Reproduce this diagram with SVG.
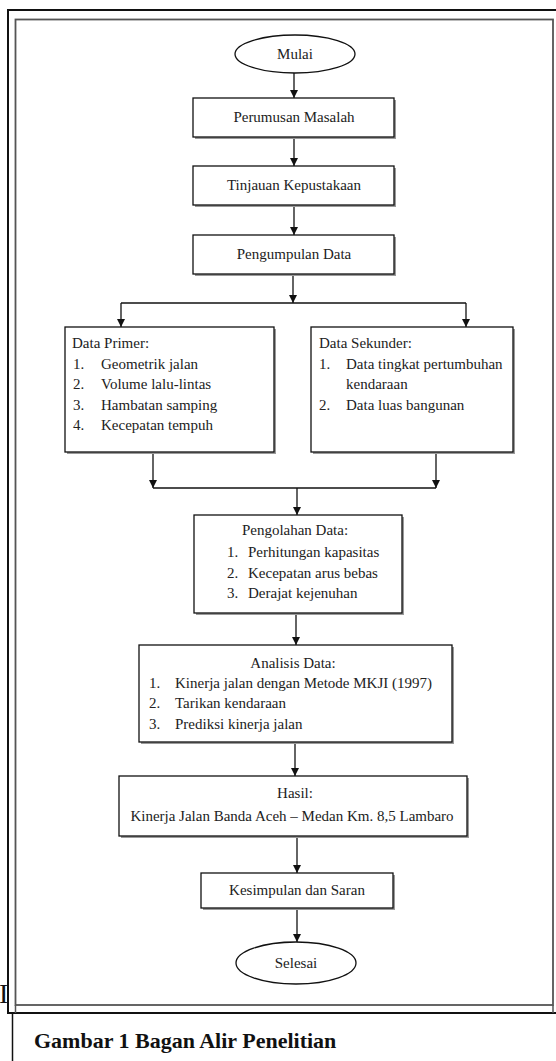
<svg xmlns="http://www.w3.org/2000/svg" width="556" height="1061" viewBox="0 0 556 1061">
<style>
.t{font-family:"Liberation Serif","Times New Roman",serif;font-size:15px;fill:#222}
.c{text-anchor:middle}
.box{fill:#fff;stroke:#111;stroke-width:1.3}
.sh{fill:#9a9a9a}
.ln{fill:none;stroke:#111;stroke-width:1.3}
.cap{font-family:"Liberation Serif","Times New Roman",serif;font-size:22px;font-weight:bold;fill:#111}
</style>
<defs>
<marker id="ah" viewBox="0 0 8 10" refX="8" refY="5" markerWidth="8" markerHeight="10" orient="auto" markerUnits="userSpaceOnUse">
<path d="M0,1 L8,5 L0,9 Z" fill="#111"/>
</marker>
</defs>
<rect x="0" y="0" width="556" height="1061" fill="#fff"/>
<text x="-1" y="1003" style="font-family:'Liberation Serif',serif;font-size:28px;fill:#111">I</text>
<g id="frame">
<rect x="8" y="10" width="560" height="1003" fill="#fff" stroke="#111" stroke-width="2"/>
<rect x="15.5" y="19.5" width="537.5" height="985.5" fill="none" stroke="#555" stroke-width="1.8"/>
<line x1="15.5" y1="1005" x2="15.5" y2="1013" stroke="#555" stroke-width="1.5"/>
<line x1="553" y1="1005" x2="553" y2="1013" stroke="#555" stroke-width="1.5"/>
<line x1="12.5" y1="1013" x2="12.5" y2="1061" stroke="#111" stroke-width="1.5"/>
</g>
<g id="connectors">
<line class="ln" x1="294" y1="73" x2="294" y2="98" marker-end="url(#ah)"/>
<line class="ln" x1="294" y1="137" x2="294" y2="166" marker-end="url(#ah)"/>
<line class="ln" x1="294" y1="205" x2="294" y2="235" marker-end="url(#ah)"/>
<line class="ln" x1="293" y1="274" x2="293" y2="303" marker-end="url(#ah)"/>
<line class="ln" x1="121" y1="303" x2="466" y2="303"/>
<line class="ln" x1="121" y1="303" x2="121" y2="327" marker-end="url(#ah)"/>
<line class="ln" x1="466" y1="303" x2="466" y2="327" marker-end="url(#ah)"/>
<line class="ln" x1="153" y1="452" x2="153" y2="488" marker-end="url(#ah)"/>
<line class="ln" x1="436" y1="452" x2="436" y2="488" marker-end="url(#ah)"/>
<line class="ln" x1="153" y1="488" x2="436" y2="488"/>
<line class="ln" x1="297" y1="488" x2="297" y2="515" marker-end="url(#ah)"/>
<line class="ln" x1="296" y1="613" x2="296" y2="645" marker-end="url(#ah)"/>
<line class="ln" x1="295" y1="742" x2="295" y2="776" marker-end="url(#ah)"/>
<line class="ln" x1="297" y1="836" x2="297" y2="873" marker-end="url(#ah)"/>
<line class="ln" x1="297" y1="908" x2="297" y2="942" marker-end="url(#ah)"/>
</g>
<g id="mulai">
<ellipse cx="295" cy="54" rx="60" ry="19" class="box"/>
<text class="t c" x="295" y="59">Mulai</text>
</g>
<g id="perumusan">
<rect class="sh" x="195" y="100" width="201" height="39"/>
<rect class="box" x="193" y="98" width="201" height="39"/>
<text class="t c" x="294" y="122">Perumusan Masalah</text>
</g>
<g id="tinjauan">
<rect class="sh" x="195" y="168" width="201" height="39"/>
<rect class="box" x="193" y="166" width="201" height="39"/>
<text class="t c" x="294" y="190">Tinjauan Kepustakaan</text>
</g>
<g id="pengumpulan">
<rect class="sh" x="195" y="237" width="201" height="39"/>
<rect class="box" x="193" y="235" width="201" height="39"/>
<text class="t c" x="294" y="259">Pengumpulan Data</text>
</g>
<g id="primer">
<rect class="sh" x="67" y="329" width="209" height="125"/>
<rect class="box" x="65" y="327" width="209" height="125"/>
<text class="t" x="72" y="348">Data Primer:</text>
<text class="t" x="73" y="369">1.</text><text class="t" x="101" y="369">Geometrik jalan</text>
<text class="t" x="73" y="389">2.</text><text class="t" x="101" y="389">Volume lalu-lintas</text>
<text class="t" x="73" y="410">3.</text><text class="t" x="101" y="410">Hambatan samping</text>
<text class="t" x="73" y="430">4.</text><text class="t" x="101" y="430">Kecepatan tempuh</text>
</g>
<g id="sekunder">
<rect class="sh" x="313" y="329" width="202" height="125"/>
<rect class="box" x="311" y="327" width="202" height="125"/>
<text class="t" x="319" y="348">Data Sekunder:</text>
<text class="t" x="319" y="369">1.</text><text class="t" x="346" y="369">Data tingkat pertumbuhan</text>
<text class="t" x="346" y="389">kendaraan</text>
<text class="t" x="319" y="410">2.</text><text class="t" x="346" y="410">Data luas bangunan</text>
</g>
<g id="pengolahan">
<rect class="sh" x="196" y="517" width="208" height="98"/>
<rect class="box" x="194" y="515" width="208" height="98"/>
<text class="t c" x="295" y="535">Pengolahan Data:</text>
<text class="t" x="227" y="557">1.</text><text class="t" x="248" y="557">Perhitungan kapasitas</text>
<text class="t" x="227" y="578">2.</text><text class="t" x="248" y="578">Kecepatan arus bebas</text>
<text class="t" x="227" y="598">3.</text><text class="t" x="248" y="598">Derajat kejenuhan</text>
</g>
<g id="analisis">
<rect class="sh" x="141" y="647" width="313" height="97"/>
<rect class="box" x="139" y="645" width="313" height="97"/>
<text class="t c" x="293" y="668">Analisis Data:</text>
<text class="t" x="149" y="688">1.</text><text class="t" x="175" y="688">Kinerja jalan dengan Metode MKJI (1997)</text>
<text class="t" x="149" y="708">2.</text><text class="t" x="175" y="708">Tarikan kendaraan</text>
<text class="t" x="149" y="729">3.</text><text class="t" x="175" y="729">Prediksi kinerja jalan</text>
</g>
<g id="hasil">
<rect class="sh" x="121" y="778" width="348" height="60"/>
<rect class="box" x="119" y="776" width="348" height="60"/>
<text class="t c" x="295" y="798">Hasil:</text>
<text class="t c" x="292" y="821">Kinerja Jalan Banda Aceh – Medan Km. 8,5 Lambaro</text>
</g>
<g id="kesimpulan">
<rect class="sh" x="203" y="875" width="192" height="35"/>
<rect class="box" x="201" y="873" width="192" height="35"/>
<text class="t c" x="297" y="895">Kesimpulan dan Saran</text>
</g>
<g id="selesai">
<ellipse cx="296" cy="963" rx="60" ry="21" class="box"/>
<text class="t c" x="296" y="968">Selesai</text>
</g>
<text class="cap" x="34" y="1048">Gambar 1 Bagan Alir Penelitian</text>
</svg>
